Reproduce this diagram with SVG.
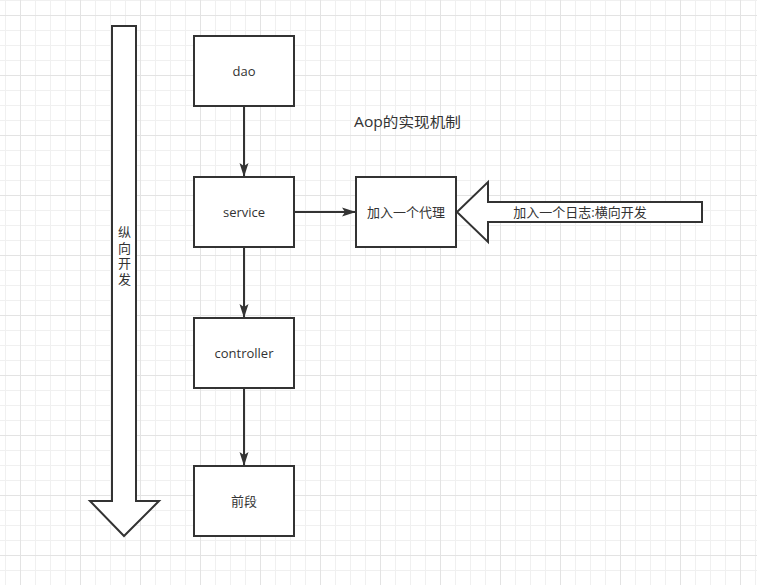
<svg xmlns="http://www.w3.org/2000/svg" width="757" height="585" viewBox="0 0 757 585">
<style>
.box{fill:#fff;stroke:#333;stroke-width:2}
.big{fill:#fff;stroke:#333;stroke-width:2;stroke-linejoin:miter}
.edge{fill:none;stroke:#333;stroke-width:2}
.t{font-family:"Open Sans","Noto Sans CJK SC",sans-serif;font-size:13px;fill:#333;text-anchor:middle}
</style>
<defs>
<pattern id="minor" patternUnits="userSpaceOnUse" x="5" y="0" width="15" height="15">
<path d="M0.5 0V15M0 0.5H15" stroke="#f0f0f0" stroke-width="1" fill="none"/>
</pattern>
<pattern id="major" patternUnits="userSpaceOnUse" x="20" y="15" width="60" height="60">
<path d="M0.5 0V60M0 0.5H60" stroke="#e3e3e3" stroke-width="1" fill="none"/>
</pattern>
<marker id="arr" viewBox="0 0 14 10" refX="13" refY="5" markerWidth="14" markerHeight="10" markerUnits="userSpaceOnUse" orient="auto">
<path d="M0 0.5L14 5L0 9.5L3 5Z" fill="#333"/>
</marker>
</defs>
<rect width="757" height="585" fill="#fff"/>
<rect width="757" height="585" fill="url(#minor)"/>
<rect width="757" height="585" fill="url(#major)"/>
<g id="connectors">
<path class="edge" d="M244 106V176" marker-end="url(#arr)"/>
<path class="edge" d="M244 247V317" marker-end="url(#arr)"/>
<path class="edge" d="M244 388V465" marker-end="url(#arr)"/>
<path class="edge" d="M294 212H355" marker-end="url(#arr)"/>
</g>
<g id="vertical-arrow">
<polygon class="big" points="112,26 136,26 136,501 159,501 124,536 90,501 112,501"/>
<text class="t" x="124" y="226" writing-mode="vertical-rl" style="text-anchor:start;letter-spacing:2.5px">纵向开发</text>
</g>
<g id="dao">
<rect class="box" x="194" y="36" width="100" height="70"/>
<text class="t" x="244" y="75.5">dao</text>
</g>
<g id="service">
<rect class="box" x="194" y="177" width="100" height="70"/>
<text class="t" x="244" y="216.5">service</text>
</g>
<g id="controller">
<rect class="box" x="194" y="318" width="100" height="70"/>
<text class="t" x="244" y="357.5">controller</text>
</g>
<g id="frontend">
<rect class="box" x="194" y="466" width="100" height="70"/>
<text class="t" x="244" y="505.5">前段</text>
</g>
<g id="proxy">
<rect class="box" x="356" y="177" width="100" height="70"/>
<text class="t" x="406" y="216.5">加入一个代理</text>
</g>
<g id="log-arrow">
<polygon class="big" points="702,202 702,222 488,222 488,242 457,212 488,182 488,202"/>
<text class="t" x="580" y="216.5">加入一个日志:横向开发</text>
</g>
<g id="title">
<text class="t" x="354" y="127" textLength="107" lengthAdjust="spacingAndGlyphs" style="font-size:14px;text-anchor:start">Aop的实现机制</text>
</g>
</svg>
